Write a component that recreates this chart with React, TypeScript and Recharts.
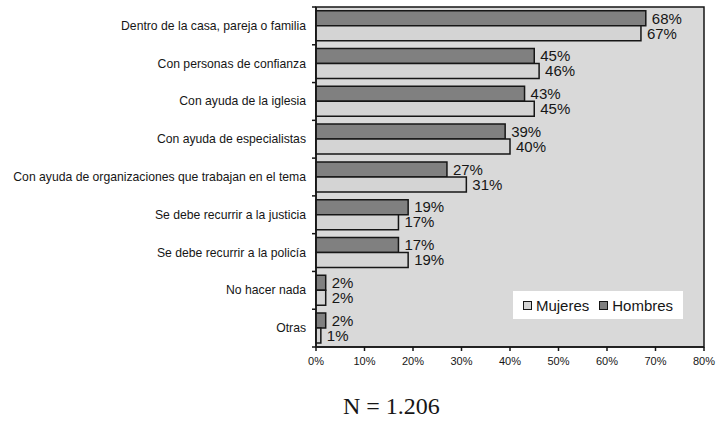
import { BarChart, Bar, XAxis, YAxis, CartesianGrid, ReferenceArea, LabelList } from 'recharts'

const categories = [
  'Dentro de la casa, pareja o familia',
  'Con personas de confianza',
  'Con ayuda de la iglesia',
  'Con ayuda de especialistas',
  'Con ayuda de organizaciones que trabajan en el tema',
  'Se debe recurrir a la justicia',
  'Se debe recurrir a la policía',
  'No hacer nada',
  'Otras'
]
const hombres = [68, 45, 43, 39, 27, 19, 17, 2, 2]
const mujeres = [67, 46, 45, 40, 31, 17, 19, 2, 1]
const xTicks = [0, 10, 20, 30, 40, 50, 60, 70, 80]

const data = categories.map((name, i) => ({ name, hombres: hombres[i], mujeres: mujeres[i] }))

const W = 719
const H = 421
const M = { top: 7, right: 15, bottom: 44, left: 0 }
const X_AXIS_H = 30
const Y_AXIS_W = 316
const TICK_SIZE = 6
const TICK_MARGIN = 4
const band = (H - M.top - M.bottom - X_AXIS_H) / categories.length

const font = '"Liberation Sans", Arial, sans-serif'
const ink = '#161616'

const CategoryTick = (props: any) => {
  const { x, y, payload, index } = props
  const axisX = x + TICK_SIZE + TICK_MARGIN
  return (
    <g>
      <text x={x} y={y} dy={4} textAnchor='end' fontSize={12.2} fontFamily={font} fill={ink}>
        {payload.value}
      </text>
      <line x1={axisX - 4} x2={axisX} y1={y + band / 2} y2={y + band / 2} stroke={ink} strokeWidth={1.5} />
      {index === 0 && <line x1={axisX - 4} x2={axisX} y1={y - band / 2} y2={y - band / 2} stroke={ink} strokeWidth={1.5} />}
    </g>
  )
}

const legendItems = [
  { name: 'Mujeres', fill: '#d4d4d4' },
  { name: 'Hombres', fill: '#808080' }
]

const LegendBox = () => (
  <div style={{ position: 'absolute', left: 513, top: 291, background: '#fff', width: 170, height: 28, display: 'flex', alignItems: 'center', justifyContent: 'center', gap: 10, fontFamily: font, fontSize: 15, color: ink }}>
    {legendItems.map(it => (
      <span key={it.name} style={{ display: 'flex', alignItems: 'center', gap: 4 }}>
        <span style={{ width: 7, height: 7, background: it.fill, border: `1.5px solid ${ink}`, display: 'inline-block' }} />
        {it.name}
      </span>
    ))}
  </div>
)

const labelStyle = { fontSize: 15, fontFamily: font, fill: ink }

export default function App () {
  return (
    <div style={{ position: 'absolute', left: 0, top: 0, width: W, height: H, background: '#fff' }}>
      <BarChart width={W} height={H} data={data} layout='vertical' margin={M} barCategoryGap='10%' barGap={0}>
        <CartesianGrid horizontal={false} vertical={false} fill='#d9d9d9' />
        <XAxis
          type='number'
          domain={[0, 80]}
          ticks={xTicks}
          tickFormatter={v => v + '%'}
          height={X_AXIS_H}
          tickSize={4}
          tickMargin={6}
          axisLine={{ stroke: ink, strokeWidth: 1.5 }}
          tickLine={{ stroke: ink, strokeWidth: 1.5 }}
          tick={{ fontSize: 11, fontFamily: font, fill: ink }}
        />
        <YAxis
          type='category'
          dataKey='name'
          width={Y_AXIS_W}
          interval={0}
          tickLine={false}
          tickSize={TICK_SIZE}
          tickMargin={TICK_MARGIN}
          axisLine={{ stroke: ink, strokeWidth: 1.5 }}
          tick={<CategoryTick />}
        />
        <ReferenceArea x1={0} x2={80} fill='none' stroke={ink} strokeWidth={1.5} />
        <Bar dataKey='hombres' name='Hombres' fill='#808080' stroke={ink} strokeWidth={1.5} isAnimationActive={false}>
          <LabelList dataKey='hombres' position='right' offset={6} formatter={(v: any) => v + '%'} style={labelStyle} />
        </Bar>
        <Bar dataKey='mujeres' name='Mujeres' fill='#d4d4d4' stroke={ink} strokeWidth={1.5} isAnimationActive={false}>
          <LabelList dataKey='mujeres' position='right' offset={6} formatter={(v: any) => v + '%'} style={labelStyle} />
        </Bar>
      </BarChart>
      <LegendBox />
      <div style={{ position: 'absolute', left: 343, top: 393, fontFamily: '"Liberation Serif", "DejaVu Serif", serif', fontSize: 24, color: ink, whiteSpace: 'nowrap' }}>
        N = 1.206
      </div>
    </div>
  )
}
